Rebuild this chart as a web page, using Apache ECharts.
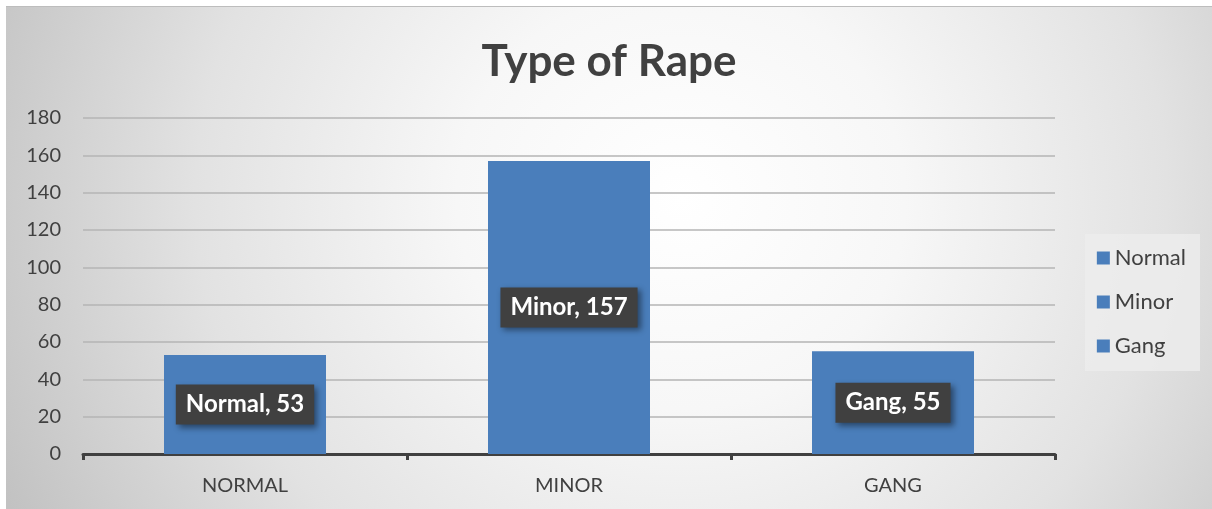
<!DOCTYPE html>
<html>
<head>
<meta charset="utf-8">
<style>
  html, body { margin: 0; padding: 0; background: #ffffff; }
  #chart {
    position: absolute; left: 6px; top: 6px; width: 1206px; height: 503px;
    border-top: 1px solid #bdbdbd; box-sizing: border-box;
    background: radial-gradient(ellipse 62% 140% at 56% 38%, #ffffff 0%, #f7f7f7 30%, #e2e2e2 65%, #c2c2c2 100%);
  }
</style>
<script src="https://cdn.jsdelivr.net/npm/echarts@6/dist/echarts.min.js"></script>
</head>
<body>
<div id="chart"></div>
<script>
// Categories and counts for each type of rape
const categories = ['NORMAL', 'MINOR', 'GANG'];
const seriesNames = ['Normal', 'Minor', 'Gang'];
const counts = [53, 157, 55];
const yTicks = { min: 0, max: 180, interval: 20 };

const FONT = 'Lato, "Open Sans", sans-serif';
const BLUE = '#4a7ebb';
const INK = '#404040';

const chart = echarts.init(document.getElementById('chart'), null, { renderer: 'canvas' });

// one series per type, each holding only its own category so the bars stay centred
const series = seriesNames.map((name, i) => ({
  name: name,
  type: 'bar',
  stack: 'total',
  barWidth: '50%',
  itemStyle: { color: BLUE },
  data: categories.map((c, j) => (j === i ? counts[i] : '-')),
  label: {
    show: true,
    position: 'inside',
    formatter: '{a}, {c}',
    color: '#ffffff',
    fontFamily: FONT,
    fontWeight: 'bold',
    fontSize: 24,
    backgroundColor: INK,
    padding: [9, 10, 7, 10],
    shadowColor: 'rgba(0,0,0,0.45)',
    shadowBlur: 6,
    shadowOffsetX: 3,
    shadowOffsetY: 3
  }
}));

chart.setOption({
  backgroundColor: 'transparent',
  animation: false,
  title: {
    text: 'Type of Rape',
    left: 'center',
    top: 28,
    textStyle: { fontFamily: FONT, fontWeight: 'bold', fontSize: 44, color: INK }
  },
  legend: {
    orient: 'vertical',
    right: 12,
    top: 227,
    itemWidth: 13,
    itemHeight: 13,
    itemGap: 22,
    padding: [13, 14, 14, 12],
    backgroundColor: 'rgba(236,236,236,0.85)',
    icon: 'rect',
    textStyle: { fontFamily: FONT, fontSize: 22, color: INK },
    data: seriesNames
  },
  grid: { left: 77, right: 157, top: 111, bottom: 55, containLabel: false },
  xAxis: {
    type: 'category',
    data: categories,
    axisLine: { lineStyle: { color: INK, width: 3 } },
    axisTick: { show: true, length: 6, lineStyle: { color: INK, width: 3 } },
    axisLabel: { fontFamily: FONT, fontSize: 20, color: INK, margin: 22 }
  },
  yAxis: {
    type: 'value',
    min: yTicks.min,
    max: yTicks.max,
    interval: yTicks.interval,
    axisLine: { show: false },
    axisTick: { show: false },
    splitLine: { lineStyle: { color: '#b4b4b4', width: 1.5 } },
    axisLabel: { fontFamily: FONT, fontSize: 20, color: INK, margin: 22 }
  },
  series: series
});
</script>
</body>
</html>
